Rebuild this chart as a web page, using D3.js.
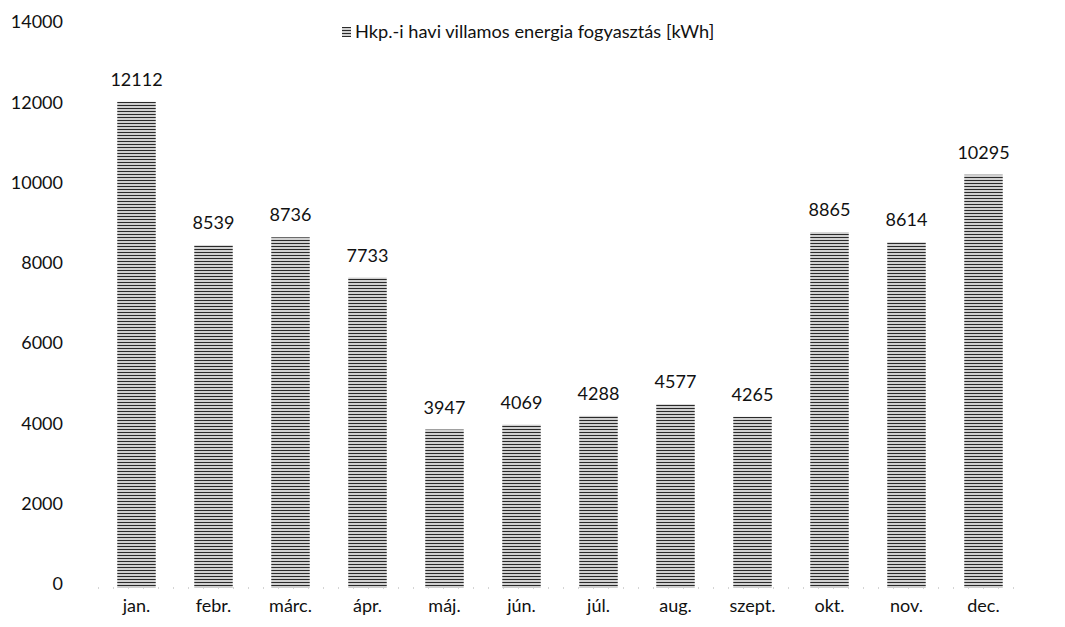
<!DOCTYPE html>
<html><head><meta charset="utf-8">
<script src="https://cdn.jsdelivr.net/npm/d3@7"></script>
<style>body{margin:0;background:#fff}text{font-family:Lato,"Open Sans",sans-serif;fill:#111}</style>
</head><body>
<svg id="c" width="1065" height="627"></svg>
<script>
const months = ["jan.","febr.","márc.","ápr.","máj.","jún.","júl.","aug.","szept.","okt.","nov.","dec."];
const values = [12112,8539,8736,7733,3947,4069,4288,4577,4265,8865,8614,10295];
const yTicks = [0,2000,4000,6000,8000,10000,12000,14000];
const seriesName = "Hkp.-i havi villamos energia fogyasztás [kWh]";

const svg = d3.select("#c");
const defs = svg.append("defs");
const pat = defs.append("pattern").attr("id","hatch").attr("patternUnits","userSpaceOnUse")
  .attr("width",6).attr("height",3);
pat.append("rect").attr("width",6).attr("height",3).attr("fill","#d0d0d0");
pat.append("rect").attr("y",0).attr("width",6).attr("height",1).attr("fill","#2a2a2a");

const x = d3.scaleBand().domain(months).range([98,1022]).paddingInner(0.5).paddingOuter(0.25);
const y = d3.scaleLinear().domain([0,14000]).range([588,26]);

// baseline dotted
svg.append("line").attr("x1",98).attr("x2",1022).attr("y1",y(0)).attr("y2",y(0))
  .attr("stroke","#aaa").attr("stroke-width",1).attr("stroke-dasharray","1,14");

const yAxis = d3.axisLeft(y).tickValues(yTicks).tickSize(0).tickPadding(0).tickFormat(d3.format("d"));
const gy = svg.append("g").attr("transform","translate(63,0)").call(yAxis);
gy.select(".domain").remove();
gy.selectAll("text").style("font-size","18px").attr("dy","0.1em");

const xAxis = d3.axisBottom(x).tickSize(0).tickPadding(0);
const gx = svg.append("g").attr("transform","translate(0,596)").call(xAxis);
gx.select(".domain").remove();
gx.selectAll("text").style("font-size","18px").attr("dy","0.9em");

svg.append("g").selectAll("rect").data(values).join("rect")
  .attr("x",(d,i)=>x(months[i])).attr("width",x.bandwidth())
  .attr("y",d=>y(d)).attr("height",d=>y(0)-y(d)).attr("fill","url(#hatch)");

svg.append("g").selectAll("text").data(values).join("text")
  .attr("x",(d,i)=>x(months[i])+x.bandwidth()/2).attr("y",d=>y(d)-16)
  .attr("text-anchor","middle").style("font-size","18px").text(d=>d);

// legend
svg.append("rect").attr("x",342).attr("y",27).attr("width",9).attr("height",10).attr("fill","url(#hatch)");
svg.append("text").attr("x",355).attr("y",38).style("font-size","18.2px").text(seriesName);
</script>
</body></html>
